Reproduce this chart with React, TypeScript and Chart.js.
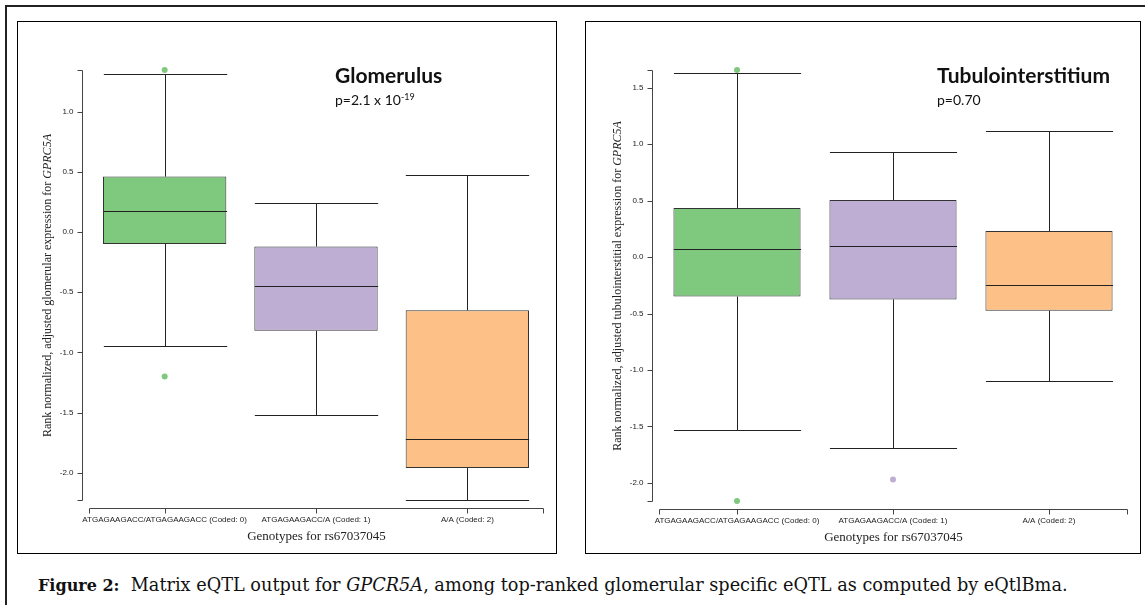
import React, { useEffect, useRef } from "react";
import { Chart, registerables } from "chart.js";

Chart.register(...registerables);

// ---------- data ----------
const CATEGORIES = [
  "ATGAGAAGACC/ATGAGAAGACC (Coded: 0)",
  "ATGAGAAGACC/A (Coded: 1)",
  "A/A (Coded: 2)",
];
const CAT_X = [0, 1, 2];
const BOX_COLORS = ["#7FC97F", "#BEAED4", "#FDC086"];

// Glomerulus
const GLOM_WHISKER_HIGH = [1.31, 0.24, 0.47];
const GLOM_Q3 = [0.46, -0.12, -0.65];
const GLOM_MEDIAN = [0.175, -0.45, -1.72];
const GLOM_Q1 = [-0.1, -0.82, -1.96];
const GLOM_WHISKER_LOW = [-0.95, -1.52, -2.225];
const GLOM_OUTLIER_X = [0, 0];
const GLOM_OUTLIER_Y = [1.345, -1.2];
const GLOM_Y_TICKS = [-2.0, -1.5, -1.0, -0.5, 0.0, 0.5, 1.0];

// Tubulointerstitium
const TUB_WHISKER_HIGH = [1.63, 0.93, 1.12];
const TUB_Q3 = [0.435, 0.505, 0.23];
const TUB_MEDIAN = [0.075, 0.1, -0.245];
const TUB_Q1 = [-0.35, -0.375, -0.475];
const TUB_WHISKER_LOW = [-1.53, -1.69, -1.1];
const TUB_OUTLIER_X = [0, 0, 1];
const TUB_OUTLIER_Y = [1.656, -2.16, -1.97];
const TUB_Y_TICKS = [-2.0, -1.5, -1.0, -0.5, 0.0, 0.5, 1.0, 1.5];

const X_TITLE = "Genotypes for rs67037045";

type PanelCfg = {
  whiskerHigh: number[];
  q3: number[];
  median: number[];
  q1: number[];
  whiskerLow: number[];
  outX: number[];
  outY: number[];
  yTicks: number[];
  yTitleMain: string;
  yTitleItalic: string;
  padding: { left: number; right: number; top: number; bottom: number };
  width: number;
  height: number;
};

const AXIS_COLOR = "#444";
const TEXT_COLOR = "#222";

const boxPlotPlugin = {
  id: "boxplotExtras",
  afterDatasetsDraw(chart: any, _args: any, opts: any) {
    const cfg: PanelCfg = opts.cfg;
    const ctx = chart.ctx;
    const xs = chart.scales.x;
    const ys = chart.scales.y;
    const meta = chart.getDatasetMeta(0);
    ctx.save();
    ctx.strokeStyle = "#222";
    ctx.lineWidth = 1;
    CAT_X.forEach((cx, i) => {
      const bar = meta.data[i];
      const w = bar ? bar.width : 100;
      const px = Math.round(xs.getPixelForValue(cx)) + 0.5;
      const x0 = px - w / 2;
      const x1 = px + w / 2;
      const yHi = Math.round(ys.getPixelForValue(cfg.whiskerHigh[i])) + 0.5;
      const yQ3 = ys.getPixelForValue(cfg.q3[i]);
      const yMed = Math.round(ys.getPixelForValue(cfg.median[i])) + 0.5;
      const yQ1 = ys.getPixelForValue(cfg.q1[i]);
      const yLo = Math.round(ys.getPixelForValue(cfg.whiskerLow[i])) + 0.5;
      ctx.beginPath();
      ctx.moveTo(px, yHi);
      ctx.lineTo(px, yQ3);
      ctx.moveTo(px, yQ1);
      ctx.lineTo(px, yLo);
      ctx.moveTo(x0, yHi);
      ctx.lineTo(x1, yHi);
      ctx.moveTo(x0, yLo);
      ctx.lineTo(x1, yLo);
      ctx.moveTo(x0, yMed);
      ctx.lineTo(x1, yMed);
      ctx.stroke();
    });
    ctx.restore();
  },
  afterDraw(chart: any, _args: any, opts: any) {
    const cfg: PanelCfg = opts.cfg;
    const ctx = chart.ctx;
    const xs = chart.scales.x;
    const ys = chart.scales.y;
    const area = chart.chartArea;
    ctx.save();
    ctx.strokeStyle = AXIS_COLOR;
    ctx.fillStyle = TEXT_COLOR;
    ctx.lineWidth = 1;

    // ---- y axis ----
    const axX = Math.round(area.left - 7) + 0.5;
    const yTop = Math.round(ys.getPixelForValue(ys.max)) + 0.5;
    const yBot = Math.round(ys.getPixelForValue(ys.min)) + 0.5;
    ctx.beginPath();
    ctx.moveTo(axX, yTop);
    ctx.lineTo(axX, yBot);
    const yTickVals = [ys.min, ...cfg.yTicks, ys.max];
    yTickVals.forEach((v) => {
      const py = Math.round(ys.getPixelForValue(v)) + 0.5;
      ctx.moveTo(axX - 5, py);
      ctx.lineTo(axX, py);
    });
    ctx.stroke();
    ctx.font = "8px 'Liberation Sans', Arial, sans-serif";
    ctx.textAlign = "right";
    ctx.textBaseline = "middle";
    cfg.yTicks.forEach((v) => {
      const py = ys.getPixelForValue(v);
      ctx.fillText(v.toFixed(1), axX - 9, py);
    });

    // ---- x axis ----
    const axY = Math.round(area.bottom + 8) + 0.5;
    const xl = Math.round(xs.getPixelForValue(xs.min)) + 0.5;
    const xr = Math.round(xs.getPixelForValue(xs.max)) + 0.5;
    ctx.beginPath();
    ctx.moveTo(xl, axY);
    ctx.lineTo(xr, axY);
    [xs.min, ...CAT_X, xs.max].forEach((v) => {
      const px = Math.round(xs.getPixelForValue(v)) + 0.5;
      ctx.moveTo(px, axY);
      ctx.lineTo(px, axY + 5);
    });
    ctx.stroke();
    ctx.textAlign = "center";
    ctx.textBaseline = "middle";
    CAT_X.forEach((v, i) => {
      ctx.fillText(CATEGORIES[i], xs.getPixelForValue(v), axY + 11);
    });
    ctx.font = "13px 'Liberation Serif', 'Times New Roman', serif";
    ctx.fillText(X_TITLE, (xl + xr) / 2, axY + 28);

    // ---- y title ----
    const fMain = "12px 'Liberation Serif', 'Times New Roman', serif";
    const fIt = "italic 12px 'Liberation Serif', 'Times New Roman', serif";
    ctx.font = fMain;
    const w1 = ctx.measureText(cfg.yTitleMain).width;
    ctx.font = fIt;
    const w2 = ctx.measureText(cfg.yTitleItalic).width;
    const cy = (yTop + yBot) / 2;
    ctx.translate(axX - 35, cy);
    ctx.rotate(-Math.PI / 2);
    ctx.textAlign = "left";
    ctx.textBaseline = "middle";
    ctx.font = fMain;
    ctx.fillText(cfg.yTitleMain, -(w1 + w2) / 2, 0);
    ctx.font = fIt;
    ctx.fillText(cfg.yTitleItalic, -(w1 + w2) / 2 + w1, 0);
    ctx.restore();
  },
};

function BoxPanel({ cfg }: { cfg: PanelCfg }) {
  const ref = useRef<HTMLCanvasElement | null>(null);
  useEffect(() => {
    if (!ref.current) return;
    const yMax = Math.max(...cfg.whiskerHigh, ...cfg.outY);
    const yMin = Math.min(...cfg.whiskerLow, ...cfg.outY);
    const chart = new Chart(ref.current, {
      type: "bar",
      data: {
        datasets: [
          {
            type: "bar",
            data: CAT_X.map((x, i) => ({ x, y: [cfg.q1[i], cfg.q3[i]] })) as any,
            backgroundColor: BOX_COLORS,
            borderColor: "#333",
            borderWidth: 1,
            borderSkipped: false,
            barPercentage: 0.815,
            categoryPercentage: 1,
          } as any,
          {
            type: "scatter",
            data: cfg.outX.map((x, i) => ({ x, y: cfg.outY[i] })),
            backgroundColor: cfg.outX.map((x) => BOX_COLORS[x]),
            borderWidth: 0,
            pointRadius: 3,
            clip: false,
          } as any,
        ],
      },
      options: {
        responsive: false,
        animation: false,
        events: [],
        layout: { padding: cfg.padding },
        scales: {
          x: {
            type: "linear",
            min: -0.5,
            max: 2.5,
            offset: false,
            display: false,
            afterBuildTicks: (s: any) => {
              s.ticks = CAT_X.map((v) => ({ value: v }));
            },
          },
          y: { type: "linear", min: yMin, max: yMax, display: false },
        },
        plugins: {
          legend: { display: false },
          tooltip: { enabled: false },
          boxplotExtras: { cfg },
        } as any,
      },
      plugins: [boxPlotPlugin],
    });
    return () => chart.destroy();
  }, [cfg]);
  return (
    <canvas
      ref={ref}
      width={cfg.width}
      height={cfg.height}
      style={{ position: "absolute", left: 0, top: 0, width: cfg.width, height: cfg.height }}
    />
  );
}

const GLOM_CFG: PanelCfg = {
  whiskerHigh: GLOM_WHISKER_HIGH,
  q3: GLOM_Q3,
  median: GLOM_MEDIAN,
  q1: GLOM_Q1,
  whiskerLow: GLOM_WHISKER_LOW,
  outX: GLOM_OUTLIER_X,
  outY: GLOM_OUTLIER_Y,
  yTicks: GLOM_Y_TICKS,
  yTitleMain: "Rank normalized, adjusted glomerular expression for ",
  yTitleItalic: "GPRC5A",
  padding: { left: 71, right: 13, top: 48, bottom: 53 },
  width: 538,
  height: 531,
};

const TUB_CFG: PanelCfg = {
  whiskerHigh: TUB_WHISKER_HIGH,
  q3: TUB_Q3,
  median: TUB_MEDIAN,
  q1: TUB_Q1,
  whiskerLow: TUB_WHISKER_LOW,
  outX: TUB_OUTLIER_X,
  outY: TUB_OUTLIER_Y,
  yTicks: TUB_Y_TICKS,
  yTitleMain: "Rank normalized, adjusted tubulointerstitial expression for ",
  yTitleItalic: "GPRC5A",
  padding: { left: 73, right: 13, top: 48, bottom: 52 },
  width: 554,
  height: 531,
};

const titleFont = "Lato, 'Open Sans', sans-serif";

export default function App() {
  return (
    <div
      style={{
        position: "absolute",
        left: 0,
        top: 0,
        width: 1145,
        height: 605,
        overflow: "hidden",
        background: "#fff",
      }}
    >
      <div
        style={{
          position: "absolute",
          left: 5,
          top: 5,
          width: 1300,
          height: 800,
          border: "2px solid #222",
        }}
      />
      <div
        style={{
          position: "absolute",
          left: 17,
          top: 21,
          width: 540,
          height: 533,
          border: "1px solid #000",
          boxSizing: "border-box",
        }}
      >
        <BoxPanel cfg={GLOM_CFG} />
      </div>
      <div
        style={{
          position: "absolute",
          left: 585,
          top: 21,
          width: 556,
          height: 533,
          border: "1px solid #000",
          boxSizing: "border-box",
        }}
      >
        <BoxPanel cfg={TUB_CFG} />
      </div>

      <div style={{ position: "absolute", left: 335, top: 62, font: `bold 21px ${titleFont}`, color: "#111", lineHeight: "25px", whiteSpace: "nowrap" }}>
        Glomerulus
      </div>
      <div style={{ position: "absolute", left: 335, top: 91, font: `14px ${titleFont}`, color: "#111", lineHeight: "18px", whiteSpace: "nowrap" }}>
        p=2.1 x 10<sup style={{ fontSize: 9, verticalAlign: 0, position: "relative", top: -5 }}>-19</sup>
      </div>
      <div style={{ position: "absolute", left: 937, top: 62, font: `bold 21px ${titleFont}`, color: "#111", lineHeight: "25px", whiteSpace: "nowrap" }}>
        Tubulointerstitium
      </div>
      <div style={{ position: "absolute", left: 937, top: 91, font: `14px ${titleFont}`, color: "#111", lineHeight: "18px", whiteSpace: "nowrap" }}>
        p=0.70
      </div>

      <div
        style={{
          position: "absolute",
          left: 38,
          top: 573,
          font: "17.7px 'DejaVu Serif', Georgia, serif",
          color: "#111",
          lineHeight: "24px",
          whiteSpace: "nowrap",
        }}
      >
        <b style={{ fontSize: 16 }}>Figure 2:</b>&nbsp; Matrix eQTL output for <i>GPCR5A</i>, among top-ranked glomerular specific eQTL as computed by eQtlBma.
      </div>
    </div>
  );
}
